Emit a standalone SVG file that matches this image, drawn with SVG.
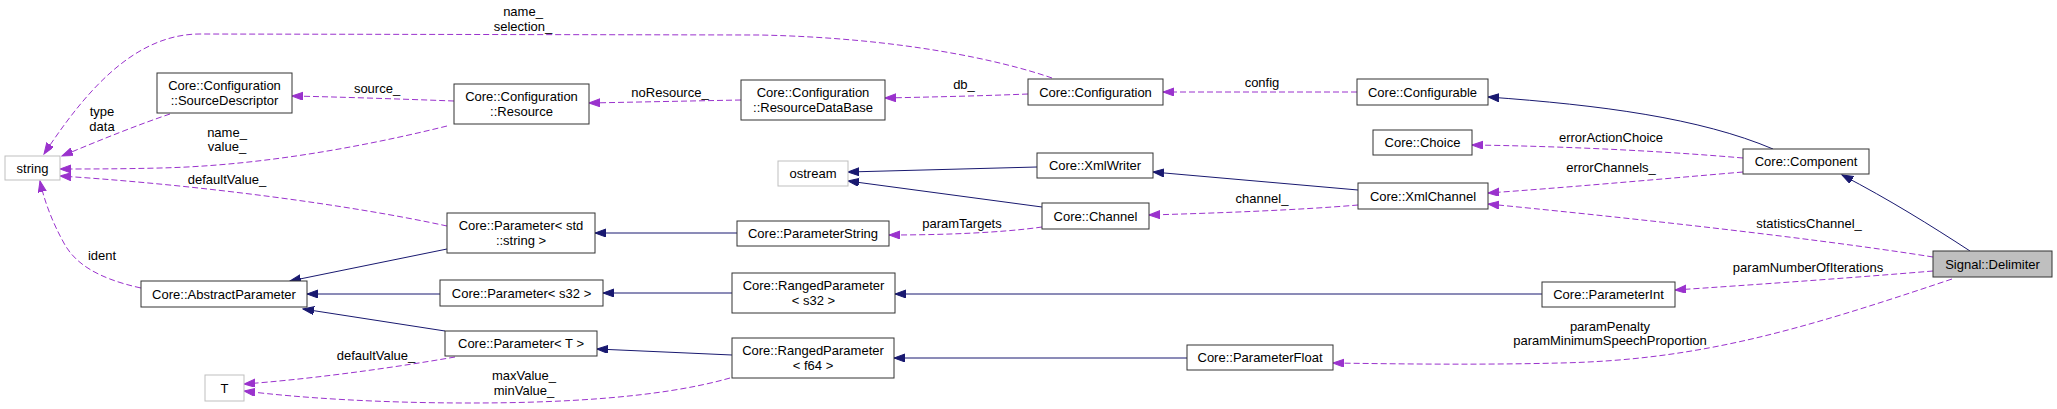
<svg xmlns="http://www.w3.org/2000/svg" width="2057" height="409" viewBox="0 0 2057 409">
<style>
text{font-family:"Liberation Sans",Arial,sans-serif;font-size:13px;fill:#000;text-anchor:middle}
.n{fill:#fff;stroke:#333;stroke-width:1}
.x{fill:#fff;stroke:#bfbfbf;stroke-width:1}
.h{fill:#bfbfbf;stroke:#333;stroke-width:1}
.u{fill:none;stroke:#9a32cd;stroke-width:1;stroke-dasharray:6,3}
.i{fill:none;stroke:#191970;stroke-width:1}
.u{marker-end:url(#ap)}
.i{marker-end:url(#an)}
</style>
<defs>
<marker id="ap" markerWidth="12" markerHeight="9" refX="11" refY="4" orient="auto" markerUnits="userSpaceOnUse"><path d="M0,0 L11,4 L0,8 z" fill="#9a32cd" stroke="#9a32cd" stroke-width="1"/></marker>
<marker id="an" markerWidth="12" markerHeight="9" refX="11" refY="4" orient="auto" markerUnits="userSpaceOnUse"><path d="M0,0 L11,4 L0,8 z" fill="#191970" stroke="#191970" stroke-width="1"/></marker>
</defs>
<rect width="2057" height="409" fill="#fff"/>
<g id="edges">
<path class="u" d="M1052,78 C1000,60 900,38 760,35 L200,34 C130,34 80,100 44,154"/>
<text x="523" y="16">name_</text><text x="523" y="31">selection_</text>
<path class="u" d="M170,114 C140,124 100,140 62,156"/>
<text x="102" y="116">type</text><text x="102" y="131">data</text>
<path class="u" d="M454,101 C400,99 340,97 292,96"/>
<text x="377" y="93">source_</text>
<path class="u" d="M447,126 C350,150 250,166 160,168 C120,169 85,169 60,169"/>
<text x="227" y="137">name_</text><text x="227" y="151">value_</text>
<path class="u" d="M741,100 L589,103"/>
<text x="670" y="97">noResource_</text>
<path class="u" d="M1028,94 C980,96 930,97 885,98"/>
<text x="964" y="89">db_</text>
<path class="u" d="M1357,92 L1163,92"/>
<text x="1262" y="87">config</text>
<path class="i" d="M1773,149 C1700,118 1600,105 1488,97"/>
<path class="u" d="M1743,158 C1650,150 1550,146 1472,145"/>
<text x="1611" y="142">errorActionChoice</text>
<path class="u" d="M1743,172 C1650,180 1560,188 1488,193"/>
<text x="1611" y="172">errorChannels_</text>
<path class="u" d="M1933,257 C1800,236 1600,215 1488,204"/>
<text x="1809" y="228">statisticsChannel_</text>
<path class="i" d="M1970,251 C1930,225 1890,200 1842,175"/>
<path class="u" d="M1933,271 C1850,278 1750,285 1675,290"/>
<text x="1808" y="272">paramNumberOfIterations</text>
<path class="u" d="M1952,279 C1800,330 1700,360 1560,363 C1480,365 1400,364 1333,363"/>
<text x="1610" y="331">paramPenalty</text><text x="1610" y="345">paramMinimumSpeechProportion</text>
<path class="i" d="M1358,190 L1153,172"/>
<path class="u" d="M1358,205 C1300,210 1220,213 1149,215"/>
<text x="1262" y="203">channel_</text>
<path class="i" d="M1037,167 L848,172"/>
<path class="i" d="M1042,207 L848,181"/>
<path class="u" d="M1042,227 C1000,233 940,235 889,235"/>
<text x="962" y="228">paramTargets</text>
<path class="i" d="M737,233 L595,233"/>
<path class="i" d="M732,293 L603,293"/>
<path class="i" d="M1542,294 L895,294"/>
<path class="i" d="M732,355 L597,349"/>
<path class="i" d="M1187,358 L894,358"/>
<path class="i" d="M447,249 L290,281"/>
<path class="i" d="M440,294 L307,294"/>
<path class="i" d="M445,331 L303,309"/>
<path class="u" d="M447,226 C350,205 200,185 60,176"/>
<text x="227" y="184">defaultValue_</text>
<path class="u" d="M141,288 C95,278 75,262 65,245 C52,222 44,200 40,181"/>
<text x="102" y="260">ident</text>
<path class="u" d="M455,357 C380,370 300,380 244,384"/>
<text x="376" y="360">defaultValue_</text>
<path class="u" d="M730,378 C660,398 560,403 470,403 C380,403 300,398 244,391"/>
<text x="524" y="380">maxValue_</text><text x="524" y="395">minValue_</text>
</g>
<g id="n_string"><rect class="x" x="5" y="156" width="55" height="24"/><text x="32.5" y="172.5">string</text></g>
<g id="n_sourcedescriptor"><rect class="n" x="157" y="73" width="135" height="40"/><text x="224.5" y="89.5">Core::Configuration</text><text x="224.5" y="104.5">::SourceDescriptor</text></g>
<g id="n_resource"><rect class="n" x="454" y="84" width="135" height="40"/><text x="521.5" y="100.5">Core::Configuration</text><text x="521.5" y="115.5">::Resource</text></g>
<g id="n_resourcedatabase"><rect class="n" x="741" y="80" width="144" height="40"/><text x="813" y="96.5">Core::Configuration</text><text x="813" y="111.5">::ResourceDataBase</text></g>
<g id="n_configuration"><rect class="n" x="1028" y="79" width="135" height="26"/><text x="1095.5" y="96.5">Core::Configuration</text></g>
<g id="n_configurable"><rect class="n" x="1357" y="79" width="131" height="26"/><text x="1422.5" y="96.5">Core::Configurable</text></g>
<g id="n_choice"><rect class="n" x="1373" y="130" width="99" height="25"/><text x="1422.5" y="147">Core::Choice</text></g>
<g id="n_ostream"><rect class="x" x="778" y="161" width="70" height="25"/><text x="813" y="178">ostream</text></g>
<g id="n_xmlwriter"><rect class="n" x="1037" y="153" width="116" height="25"/><text x="1095" y="170">Core::XmlWriter</text></g>
<g id="n_xmlchannel"><rect class="n" x="1358" y="183" width="130" height="26"/><text x="1423" y="200.5">Core::XmlChannel</text></g>
<g id="n_component"><rect class="n" x="1743" y="149" width="126" height="25"/><text x="1806" y="166">Core::Component</text></g>
<g id="n_channel"><rect class="n" x="1042" y="203" width="107" height="26"/><text x="1095.5" y="220.5">Core::Channel</text></g>
<g id="n_delimiter"><rect class="h" x="1933" y="251" width="119" height="26"/><text x="1992.5" y="268.5">Signal::Delimiter</text></g>
<g id="n_param_string"><rect class="n" x="447" y="213" width="148" height="40"/><text x="521" y="229.5">Core::Parameter&lt; std</text><text x="521" y="244.5">::string &gt;</text></g>
<g id="n_parameterstring"><rect class="n" x="737" y="221" width="152" height="25"/><text x="813" y="238">Core::ParameterString</text></g>
<g id="n_abstractparameter"><rect class="n" x="141" y="281" width="166" height="26"/><text x="224" y="298.5">Core::AbstractParameter</text></g>
<g id="n_param_s32"><rect class="n" x="440" y="280" width="163" height="26"/><text x="521.5" y="297.5">Core::Parameter&lt; s32 &gt;</text></g>
<g id="n_ranged_s32"><rect class="n" x="732" y="273" width="163" height="40"/><text x="813.5" y="289.5">Core::RangedParameter</text><text x="813.5" y="304.5">&lt; s32 &gt;</text></g>
<g id="n_parameterint"><rect class="n" x="1542" y="282" width="133" height="25"/><text x="1608.5" y="299">Core::ParameterInt</text></g>
<g id="n_param_t"><rect class="n" x="445" y="331" width="152" height="25"/><text x="521" y="348">Core::Parameter&lt; T &gt;</text></g>
<g id="n_ranged_f64"><rect class="n" x="732" y="338" width="162" height="40"/><text x="813" y="354.5">Core::RangedParameter</text><text x="813" y="369.5">&lt; f64 &gt;</text></g>
<g id="n_parameterfloat"><rect class="n" x="1187" y="345" width="146" height="25"/><text x="1260" y="362">Core::ParameterFloat</text></g>
<g id="n_t"><rect class="x" x="205" y="375" width="39" height="26"/><text x="224.5" y="392.5">T</text></g>
</svg>
